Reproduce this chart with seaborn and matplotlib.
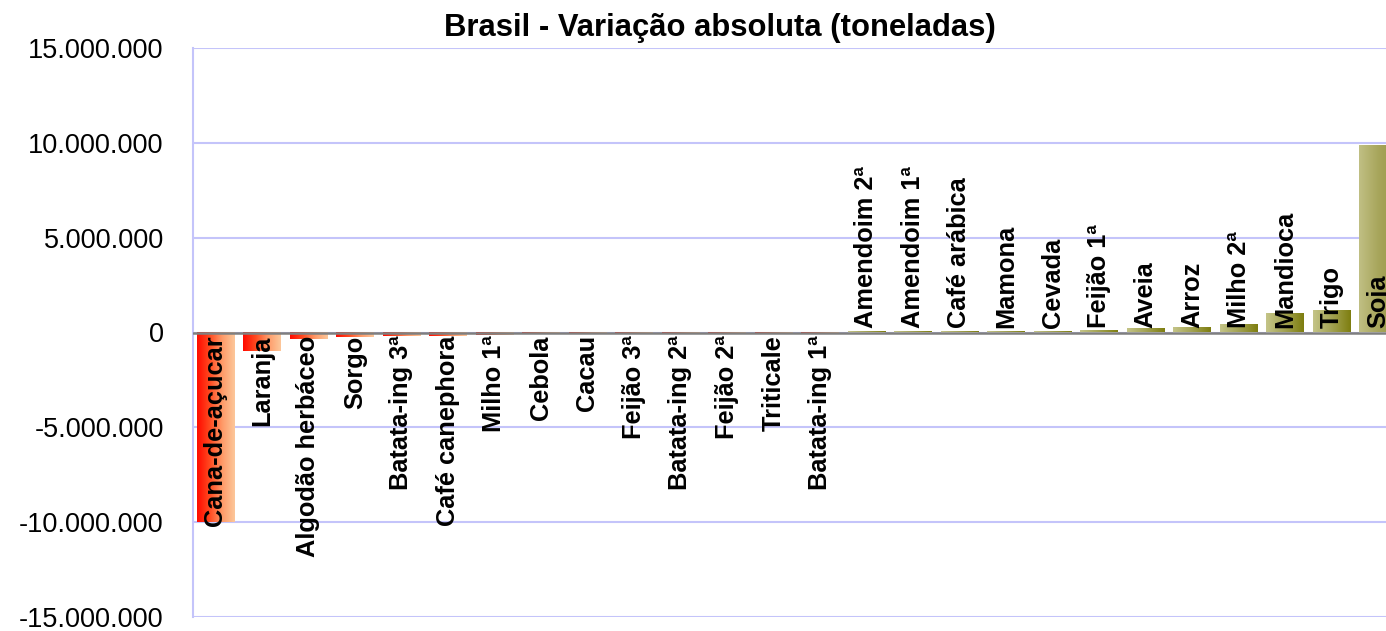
import numpy as np
import pandas as pd
import matplotlib
matplotlib.use("Agg")
import matplotlib.pyplot as plt
import seaborn as sns
from matplotlib.colors import LinearSegmentedColormap
from matplotlib.ticker import FuncFormatter, MultipleLocator

# data (tonnes)
culturas = ["Cana-de-açucar", "Laranja", "Algodão herbáceo", "Sorgo", "Batata-ing 3ª",
            "Café canephora", "Milho 1ª", "Cebola", "Cacau", "Feijão 3ª", "Batata-ing 2ª",
            "Feijão 2ª", "Triticale", "Batata-ing 1ª", "Amendoim 2ª", "Amendoim 1ª",
            "Café arábica", "Mamona", "Cevada", "Feijão 1ª", "Aveia", "Arroz", "Milho 2ª",
            "Mandioca", "Trigo", "Soja"]
variacao = [-10000000, -1000000, -320000, -220000, -200000,
            -160000, -110000, -80000, -55000, -45000, -35000,
            -25000, -6000, -2000, 5000, 10000,
            20000, 30000, 50000, 80000, 200000, 250000, 380000,
            950000, 1130000, 9850000]

df = pd.DataFrame({"cultura": culturas, "variacao": variacao})

sns.set_style("white")
plt.rcParams['font.family'] = ['Liberation Sans', 'DejaVu Sans']
plt.rcParams['text.color'] = 'black'
plt.rcParams['ytick.color'] = 'black'

fig = plt.figure(figsize=(13.86, 6.31), dpi=100)
ax = fig.add_axes([193 / 1386, 1 - 617 / 631, 1 - 193 / 1386, (617 - 48) / 631])

sns.barplot(data=df, x="cultura", y="variacao", ax=ax, width=0.8, color="white",
            edgecolor="none", linewidth=0)

neg_cmap = LinearSegmentedColormap.from_list("neg", ["#ff0a00", "#ff4a20", "#ff9a68", "#fcc79a"])
pos_cmap = LinearSegmentedColormap.from_list("pos", ["#c4c488", "#a3a352", "#7e7e10"])
soja_cmap = LinearSegmentedColormap.from_list("soja", ["#c0bf84", "#a8a65c", "#9a984a"])
grad = np.linspace(0, 1, 64).reshape(1, -1)

for patch, nome, v in zip(ax.patches, culturas, variacao):
    x0, y0 = patch.get_x(), patch.get_y()
    w, h = patch.get_width(), patch.get_height()
    if v < 0:
        cm = neg_cmap
    elif nome == "Soja":
        cm = soja_cmap
    else:
        cm = pos_cmap
    ax.imshow(grad, cmap=cm, aspect="auto", extent=(x0, x0 + w, y0, y0 + h),
              zorder=2, interpolation="bicubic")

# labels next to the zero line
for i, (nome, v) in enumerate(zip(culturas, variacao)):
    if v < 0:
        ax.annotate(nome, (i, 0), xytext=(0, -2), textcoords="offset points",
                    rotation=90, ha="center", va="top", fontsize=18.3,
                    fontweight="bold", zorder=4)
    else:
        ax.annotate(nome, (i, 0), xytext=(0, 3), textcoords="offset points",
                    rotation=90, ha="center", va="bottom", fontsize=18.3,
                    fontweight="bold", zorder=4)

ax.set_xlim(-0.48, 25.17)
ax.set_ylim(-15000000, 15000000)
ax.yaxis.set_major_locator(MultipleLocator(5000000))
ax.yaxis.set_major_formatter(FuncFormatter(lambda v, p: f"{int(v):,}".replace(",", ".")))
ax.grid(axis="y", color="#c4c4fa", linewidth=1.5, zorder=0)
ax.set_axisbelow(True)
ax.axhline(0, color="#7f7f7f", linewidth=1.8, zorder=3)

ax.set_xticks([])
ax.set_xlabel("")
ax.set_ylabel("")
ax.tick_params(axis="y", length=0, labelsize=19.5, pad=21)
for s in ["top", "right", "bottom"]:
    ax.spines[s].set_visible(False)
ax.spines["left"].set_color("#c4c4fa")
ax.spines["left"].set_linewidth(1.5)

fig.text(720 / 1386, 1 - 28 / 631, "Brasil - Variação absoluta (toneladas)",
         ha="center", va="center", fontsize=22.3, fontweight="bold")

fig.savefig("out.png", dpi=100)
